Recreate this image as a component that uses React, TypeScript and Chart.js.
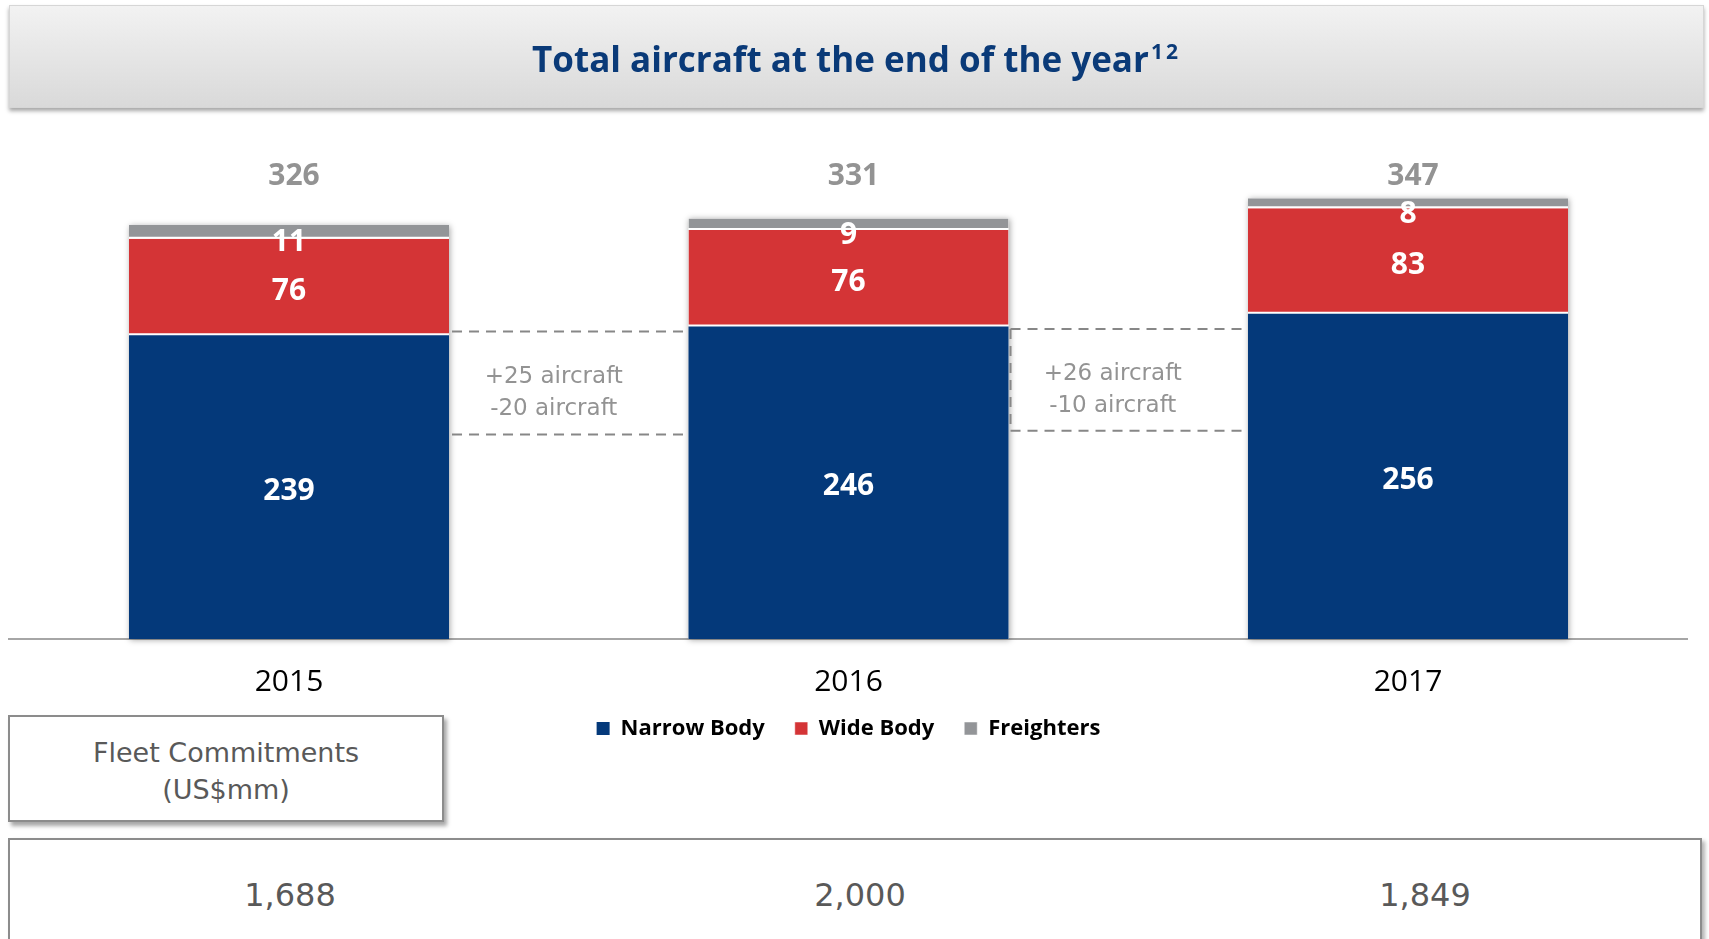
import React, { useEffect, useRef } from 'react';
import { Chart, registerables } from 'chart.js';

Chart.register(...registerables);

// ---------- data ----------
const years = ['2015', '2016', '2017'];
const seriesNames = ['Narrow Body', 'Wide Body', 'Freighters'];
const narrowBody = [239, 246, 256];
const wideBody = [76, 76, 83];
const freighters = [11, 9, 8];
const totals = [326, 331, 347];
const fleetCommitments = ['1,688', '2,000', '1,849'];
const connectorTop = [242, 244];
const connectorBottom = [161, 164];
const aircraftAdded = ['+25 aircraft', '+26 aircraft'];
const aircraftRemoved = ['-20 aircraft', '-10 aircraft'];
const connectorSideLine = [false, true];

// ---------- styles ----------
const NAVY = '#04397a';
const RED = '#d43436';
const GRAY = '#939598';
const LABEL_OFFSETS = [4, 4, 11];

const barShadowPlugin = {
  id: 'barShadow',
  beforeDatasetsDraw(chart: any) {
    const ctx = chart.ctx;
    const m0 = chart.getDatasetMeta(0);
    const mTop = chart.getDatasetMeta(chart.data.datasets.length - 1);
    m0.data.forEach((el: any, i: number) => {
      const top = mTop.data[i].y;
      ctx.save();
      ctx.shadowColor = 'rgba(0,0,0,0.35)';
      ctx.shadowBlur = 6;
      ctx.shadowOffsetX = 1;
      ctx.shadowOffsetY = 1;
      ctx.fillStyle = '#ffffff';
      ctx.fillRect(el.x - el.width / 2, top, el.width, el.base - top);
      ctx.restore();
    });
  },
};

const categoryLabelPlugin = {
  id: 'categoryLabels',
  afterDraw(chart: any) {
    const ctx = chart.ctx;
    const xScale = chart.scales.x;
    ctx.save();
    ctx.fillStyle = '#000000';
    ctx.font = "30px 'Open Sans'";
    ctx.textAlign = 'center';
    ctx.textBaseline = 'middle';
    xScale.ticks.forEach((_t: any, i: number) => {
      ctx.fillText(String(chart.data.labels[i]), xScale.getPixelForTick(i), chart.chartArea.bottom + 43);
    });
    ctx.restore();
  },
};

const connectorPlugin = {
  id: 'connectors',
  afterDatasetsDraw(chart: any) {
    const ctx = chart.ctx;
    const yScale = chart.scales.y;
    const m0 = chart.getDatasetMeta(0);
    connectorTop.forEach((tv, i) => {
      const a = m0.data[i];
      const b = m0.data[i + 1];
      const x1 = a.x + a.width / 2 + (connectorSideLine[i] ? 2 : 3);
      const x2 = b.x - b.width / 2 - 3;
      const yT = yScale.getPixelForValue(tv);
      const yB = yScale.getPixelForValue(connectorBottom[i]);
      ctx.save();
      ctx.setLineDash([10, 7]);
      ctx.lineWidth = 2;
      ctx.strokeStyle = '#878787';
      ctx.beginPath();
      ctx.moveTo(x1, yT);
      ctx.lineTo(x2, yT);
      ctx.moveTo(x1, yB);
      ctx.lineTo(x2, yB);
      if (connectorSideLine[i]) {
        ctx.moveTo(x1, yT);
        ctx.lineTo(x1, yB);
      }
      ctx.stroke();
      ctx.setLineDash([]);
      ctx.fillStyle = '#939393';
      ctx.font = "23px 'DejaVu Sans'";
      ctx.textAlign = 'center';
      ctx.textBaseline = 'middle';
      const cx = (x1 + x2) / 2 - 15;
      const cy = (yT + yB) / 2 + 10;
      ctx.fillText(aircraftAdded[i], cx, cy - 16);
      ctx.fillText(aircraftRemoved[i], cx, cy + 16);
      ctx.restore();
    });
  },
};

const valueLabelPlugin = {
  id: 'valueLabels',
  afterDatasetsDraw(chart: any) {
    const ctx = chart.ctx;
    ctx.save();
    ctx.textAlign = 'center';
    ctx.textBaseline = 'middle';
    ctx.font = "bold 30px 'Open Sans'";
    chart.data.datasets.forEach((ds: any, di: number) => {
      const meta = chart.getDatasetMeta(di);
      meta.data.forEach((el: any, i: number) => {
        ctx.fillStyle = '#ffffff';
        ctx.fillText(String(ds.data[i]), el.x, (el.y + el.base) / 2 + LABEL_OFFSETS[di]);
      });
    });
    const m0 = chart.getDatasetMeta(0);
    ctx.fillStyle = '#939393';
    m0.data.forEach((el: any, i: number) => {
      ctx.fillText(String(totals[i]), el.x + 5, chart.chartArea.top + 46);
    });
    ctx.restore();
  },
};

function FleetChart() {
  const ref = useRef<HTMLCanvasElement | null>(null);
  useEffect(() => {
    if (!ref.current) return;
    const chart = new Chart(ref.current, {
      type: 'bar',
      data: {
        labels: years,
        datasets: [
          {
            label: seriesNames[0],
            data: narrowBody,
            backgroundColor: NAVY,
            borderWidth: 0,
            barPercentage: 0.572,
            categoryPercentage: 1,
          },
          {
            label: seriesNames[1],
            data: wideBody,
            backgroundColor: RED,
            borderColor: '#ffffff',
            borderWidth: { top: 0, left: 0, right: 0, bottom: 2 },
            borderSkipped: false,
            barPercentage: 0.572,
            categoryPercentage: 1,
          },
          {
            label: seriesNames[2],
            data: freighters,
            backgroundColor: GRAY,
            borderColor: '#ffffff',
            borderWidth: { top: 0, left: 0, right: 0, bottom: 2 },
            borderSkipped: false,
            barPercentage: 0.572,
            categoryPercentage: 1,
          },
        ],
      } as any,
      options: {
        animation: false,
        responsive: false,
        maintainAspectRatio: false,
        layout: { padding: { left: 9.25, right: 21.25, top: 130.8, bottom: 10.5 } },
        scales: {
          x: {
            stacked: true,
            grid: { display: false, drawTicks: false },
            border: { display: true, color: '#a6a6a6', width: 2 },
            ticks: { display: false },
            afterFit: (s: any) => {
              s.height = 48.5;
            },
          },
          y: { stacked: true, display: false, min: 0, max: 400 },
        },
        plugins: {
          legend: {
            position: 'bottom',
            labels: {
              boxWidth: 13,
              boxHeight: 13,
              padding: 30,
              color: '#000000',
              font: { family: "'Open Sans'", size: 22, weight: 'bold' },
            },
          },
          tooltip: { enabled: false },
        },
      } as any,
      plugins: [barShadowPlugin, connectorPlugin, valueLabelPlugin, categoryLabelPlugin],
    });
    return () => chart.destroy();
  }, []);
  return (
    <canvas
      ref={ref}
      width={1709}
      height={760}
      style={{ position: 'absolute', left: 0, top: 0, width: 1709, height: 760, zIndex: 2 }}
    />
  );
}

export default function App() {
  const valueCenters = [290, 860, 1425];
  return (
    <div
      style={{
        position: 'absolute',
        left: 0,
        top: 0,
        width: 1709,
        height: 939,
        overflow: 'hidden',
        background: '#ffffff',
      }}
    >
      <div
        style={{
          position: 'absolute',
          left: 9,
          top: 5,
          width: 1695,
          height: 103,
          boxSizing: 'border-box',
          background: 'linear-gradient(#f2f2f2, #d9d9d9)',
          border: '1px solid #d6d6d6',
          boxShadow: '0 3px 4px rgba(0,0,0,0.35)',
          display: 'flex',
          alignItems: 'center',
          justifyContent: 'center',
          zIndex: 3,
        }}
      >
        <span
          style={{
            fontFamily: "'Open Sans'",
            fontWeight: 700,
            fontSize: 35,
            color: '#0a3a78',
            paddingTop: 3,
            whiteSpace: 'nowrap',
          }}
        >
          Total aircraft at the end of the year
          <span style={{ fontSize: 21, position: 'relative', top: -13, marginLeft: 2, letterSpacing: 3 }}>12</span>
        </span>
      </div>

      <div
        style={{
          position: 'absolute',
          left: 8,
          top: 715,
          width: 436,
          height: 107,
          boxSizing: 'border-box',
          border: '2px solid #8c8c8c',
          background: '#ffffff',
          boxShadow: '3px 4px 4px rgba(0,0,0,0.35)',
          zIndex: 1,
        }}
      />
      <div
        style={{
          position: 'absolute',
          left: 8,
          top: 734,
          width: 436,
          textAlign: 'center',
          fontFamily: "'DejaVu Sans'",
          fontSize: 27,
          lineHeight: '37px',
          color: '#595959',
          zIndex: 1,
        }}
      >
        Fleet Commitments
        <br />
        (US$mm)
      </div>

      <div
        style={{
          position: 'absolute',
          left: 8,
          top: 838,
          width: 1694,
          height: 130,
          boxSizing: 'border-box',
          border: '2px solid #8c8c8c',
          background: '#ffffff',
          boxShadow: '3px 3px 4px rgba(0,0,0,0.3)',
          zIndex: 1,
        }}
      />
      {fleetCommitments.map((v, i) => (
        <div
          key={v}
          style={{
            position: 'absolute',
            left: valueCenters[i] - 150,
            top: 875,
            width: 300,
            height: 40,
            textAlign: 'center',
            fontFamily: "'DejaVu Sans'",
            fontSize: 32,
            lineHeight: '40px',
            color: '#595959',
            zIndex: 1,
          }}
        >
          {v}
        </div>
      ))}

      <FleetChart />
    </div>
  );
}
